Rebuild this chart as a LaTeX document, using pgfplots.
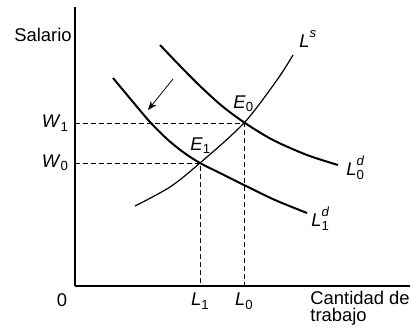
\documentclass[border=0pt]{standalone}
\usepackage{fontspec}
\setmainfont{Liberation Sans}
\usepackage{pgfplots}
\pgfplotsset{compat=1.18}
\usetikzlibrary{arrows.meta}
\newcommand{\scr}{\fontsize{6.6}{6.6}\selectfont}
\newcommand{\sub}[1]{\raisebox{-0.35ex}{\scr #1}}
\newcommand{\supsub}[2]{\makebox[0pt][l]{\raisebox{1.0ex}{\scr\textit{#1}}}\raisebox{-0.5ex}{\scr #2}}
\begin{document}
\begin{tikzpicture}[font=\fontsize{9.2}{9.2}\selectfont]
\begin{axis}[
  x=0.5pt, y=0.5pt,
  xmin=75, xmax=410, ymin=42, ymax=321,
  axis lines=left,
  axis line style={line width=1pt, -},
  clip=false,
  major tick length=0pt,
  xtick={200,244},
  xticklabels={\textit{L}\sub{1}, \textit{L}\sub{0}},
  ytick={165,205},
  yticklabels={\textit{W}\sub{0}, \textit{W}\sub{1}},
  tick label style={font=\fontsize{9.2}{9.2}\selectfont},
]
% invisible bounding box matching the reference canvas
\path (axis cs:0,0) rectangle (axis cs:411,328);
% dashed guide lines
\addplot[black, line width=0.5pt, dash pattern=on 2.5pt off 1.5pt] coordinates {(75,205) (244,205) (244,42)};
\addplot[black, line width=0.5pt, dash pattern=on 2.5pt off 1.5pt] coordinates {(75,165) (200,165) (200,42)};
% labour supply
\addplot[black, line width=0.6pt, smooth] coordinates {(135,122) (170,141) (200,165) (244,205) (277,248) (293,273)};
% labour demand L0
\addplot[black, line width=1pt, smooth] coordinates {(160,283) (183,259) (200,242) (222,222) (245,205) (273,188) (307,173) (338,163)};
% labour demand L1
\addplot[black, line width=1pt, smooth] coordinates {(113,250) (133,226) (150,206) (167,189) (183,176) (200,165) (222,154) (244,143) (275,128) (307,115)};
% shift arrow
\addplot[black, line width=0.4pt, -{Stealth[length=4.5pt, width=3.5pt]}] coordinates {(173,249) (148,218)};
% labels
\node[anchor=east, inner sep=0pt] at (axis cs:72,293) {Salario};
\node[anchor=base west, inner sep=0pt] at (axis cs:299,281) {\textit{L}\raisebox{1.0ex}{\scr\textit{s}}};
\node[anchor=base west, inner sep=0pt] at (axis cs:233,220) {\textit{E}\sub{0}};
\node[anchor=base west, inner sep=0pt] at (axis cs:190,178) {\textit{E}\sub{1}};
\node[anchor=base west, inner sep=0pt] at (axis cs:346,153) {\textit{L}\supsub{d}{0}};
\node[anchor=base west, inner sep=0pt] at (axis cs:311,102) {\textit{L}\supsub{d}{1}};
\node[inner sep=0pt] at (axis cs:62,28) {0};
\node[anchor=base west, inner sep=0pt, align=left, font=\fontsize{9.2}{8.3}\selectfont] at (axis cs:310,7) {Cantidad de\\trabajo};
\end{axis}
\end{tikzpicture}
\end{document}
